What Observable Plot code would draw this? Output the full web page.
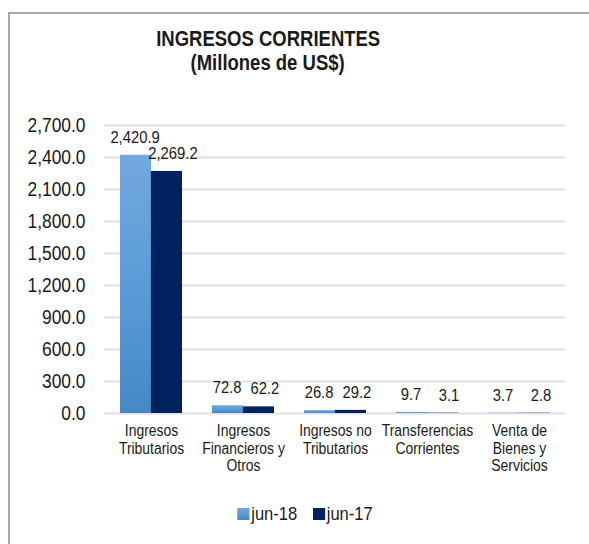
<!DOCTYPE html>
<html>
<head>
<meta charset="utf-8">
<script src="https://cdn.jsdelivr.net/npm/d3@7"></script>
<script src="https://cdn.jsdelivr.net/npm/@observablehq/plot@0.6"></script>
<style>
  html, body { margin: 0; padding: 0; background: #fff; }
  body { width: 589px; height: 544px; position: relative; overflow: hidden;
         font-family: "Liberation Sans", Arial, sans-serif; color: #1a1a1a; }
  #frame { position: absolute; left: 8px; top: 12px; width: 600px; height: 600px;
           border-left: 2px solid #a9a9a9; border-top: 2px solid #a9a9a9; box-sizing: border-box; }
  #title { position: absolute; left: 0; top: 27px; width: 536px; text-align: center;
           font-size: 21.5px; font-weight: bold; line-height: 24px; }
  #title span { display: inline-block; transform: scaleX(0.86); transform-origin: center; white-space: nowrap; }
  #chart { position: absolute; left: 0; top: 100px; }
  #legend { position: absolute; top: 503px; left: 305px; font-size: 19px; white-space: nowrap;
            transform: translateX(-50%) scaleX(0.87); transform-origin: center; display: flex; align-items: center; }
  .sw { width: 14px; height: 12px; display: inline-block; margin-right: 2px; }
  .item { display: flex; align-items: center; margin: 0 9px; }
</style>
</head>
<body>
<div id="frame"></div>
<div id="title"><span>INGRESOS CORRIENTES</span><br><span>(Millones de US$)</span></div>
<div id="chart"></div>
<div id="legend"></div>
<script>
const categories = ["Ingresos Tributarios", "Ingresos Financieros y Otros", "Ingresos no Tributarios", "Transferencias Corrientes", "Venta de Bienes y Servicios"];
const tickLabels = ["Ingresos\nTributarios", "Ingresos\nFinancieros y\nOtros", "Ingresos no\nTributarios", "Transferencias\nCorrientes", "Venta de\nBienes y\nServicios"];
const seriesNames = ["jun-18", "jun-17"];
const jun18 = [2420.9, 72.8, 26.8, 9.7, 3.7];
const jun17 = [2269.2, 62.2, 29.2, 3.1, 2.8];
const yTicks = [0, 300, 600, 900, 1200, 1500, 1800, 2100, 2400, 2700];

const fontFamily = '"Liberation Sans", Arial, sans-serif';
const squeeze = 0.87;
const W = 589, H = 400, mL = 104, mR = 24, mT = 25, mB = 87;
const padInner = 0.33;
const bw = (W - mL - mR) / categories.length * (1 - padInner);
const fmt = d3.format(",.1f");

const data = categories.map((c, i) => ({cat: c, v18: jun18[i], v17: jun17[i]}));
const labelOf = new Map(categories.map((c, i) => [c, tickLabels[i]]));

const plot = Plot.plot({
  width: W, height: H, marginLeft: mL, marginRight: mR, marginTop: mT, marginBottom: mB,
  style: {fontFamily, color: "#1a1a1a", background: "transparent", overflow: "visible"},
  x: {domain: categories, paddingInner: padInner, paddingOuter: padInner / 2, axis: null},
  y: {domain: [0, 2700], axis: null},
  marks: [
    Plot.ruleY(yTicks, {stroke: "#dcdfe7", strokeWidth: 2}),
    Plot.barY(data, {x: "cat", y: "v18", fill: "url(#g18)", insetLeft: 0, insetRight: bw / 2}),
    Plot.barY(data, {x: "cat", y: "v17", fill: "url(#g17)", insetLeft: bw / 2, insetRight: 0}),
    Plot.text(data, {x: "cat", y: "v18", text: d => fmt(d.v18), dx: -bw / 4 - 1, dy: -18, fontSize: 17, fill: "#1a1a1a"}),
    Plot.text(data, {x: "cat", y: "v17", text: d => fmt(d.v17), dx: bw / 4 + 6, dy: -18, fontSize: 17, fill: "#1a1a1a"}),
    Plot.axisY(yTicks, {tickSize: 0, tickPadding: 19, tickFormat: fmt, fontSize: 20, fill: "#1a1a1a"}),
    Plot.axisX({tickSize: 0, tickPadding: 10, tickFormat: d => labelOf.get(d), label: null, fontSize: 16, lineHeight: 1.1, fill: "#1a1a1a"})
  ]
});

// horizontally condense all texts around their anchor (narrow font look)
plot.querySelectorAll("text").forEach(t => {
  let x = parseFloat(t.getAttribute("x"));
  if (!isFinite(x)) x = 0;
  const tr = t.getAttribute("transform") || "";
  t.setAttribute("transform", `${tr} translate(${x},0) scale(${squeeze},1) translate(${-x},0)`);
});

const svgSel = d3.select(plot);
const defs = svgSel.insert("defs", ":first-child");
const g18 = defs.append("linearGradient").attr("id", "g18").attr("x1", 0).attr("y1", 0).attr("x2", 0).attr("y2", 1);
g18.append("stop").attr("offset", "0%").attr("stop-color", "#72a8dd");
g18.append("stop").attr("offset", "50%").attr("stop-color", "#5b9bd8");
g18.append("stop").attr("offset", "100%").attr("stop-color", "#4688c7");
const g17 = defs.append("linearGradient").attr("id", "g17").attr("x1", 0).attr("y1", 0).attr("x2", 0).attr("y2", 1);
g17.append("stop").attr("offset", "0%").attr("stop-color", "#022160");
g17.append("stop").attr("offset", "100%").attr("stop-color", "#02215f");

document.getElementById("chart").appendChild(plot);

const legend = d3.select("#legend");
const swatchBg = ["linear-gradient(#72a8dd, #4688c7)", "#02215f"];
seriesNames.forEach((s, i) => {
  const it = legend.append("div").attr("class", "item");
  it.append("span").attr("class", "sw").style("background", swatchBg[i]);
  it.append("span").text(s);
});
</script>
</body>
</html>
